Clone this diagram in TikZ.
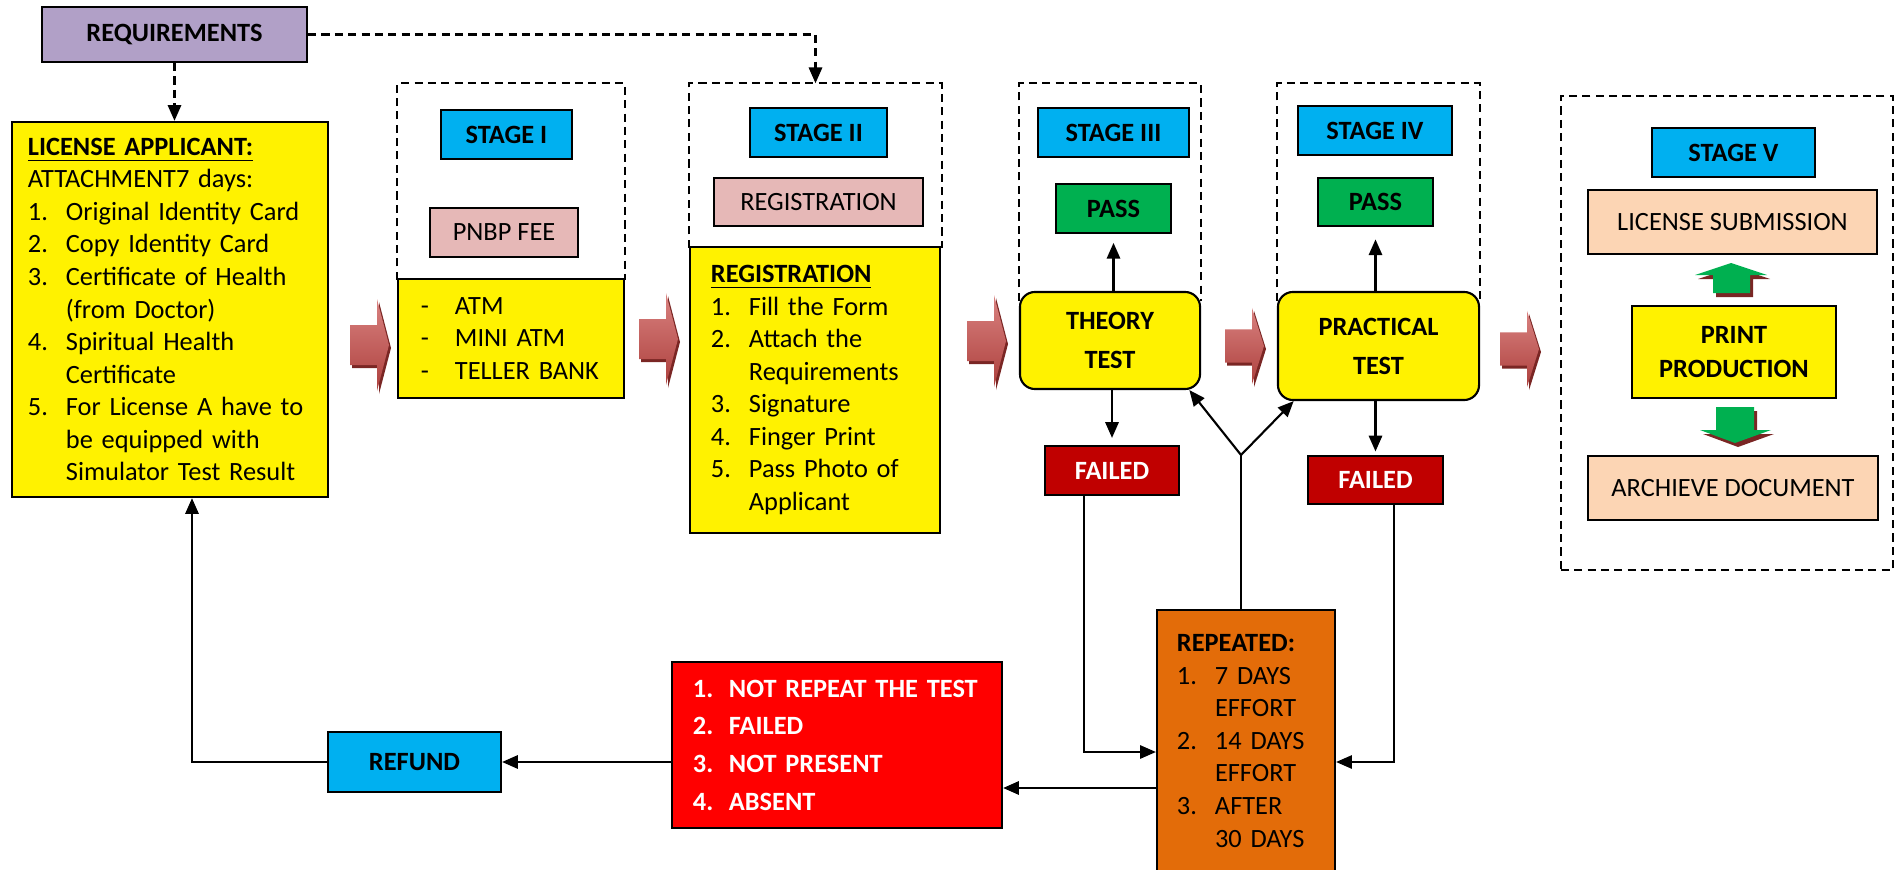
\documentclass[tikz,border=0pt]{standalone}
\usepackage{fontspec}
\setmainfont{Carlito}
\usetikzlibrary{arrows.meta}

\definecolor{reqpurple}{HTML}{B1A0C7}
\definecolor{stageblue}{HTML}{00B0F0}
\definecolor{feepink}{HTML}{E6B8B7}
\definecolor{passgreen}{HTML}{00B050}
\definecolor{faildark}{HTML}{C00000}
\definecolor{peach}{HTML}{FCD5B4}
\definecolor{retryorange}{HTML}{E36C09}
\definecolor{arrowlight}{HTML}{D98280}
\definecolor{arrowdark}{HTML}{AD403D}
\definecolor{arrowshadow}{HTML}{7A2624}

\newlength{\numw}
\newcommand{\lno}[1]{\makebox[\numw][l]{#1}}
\newcommand{\lgap}{\hspace*{\numw}}

\tikzset{
	box/.style={draw, line width=0.6pt, inner sep=0pt, align=center, font=\fontsize{7.5}{9.25}\selectfont},
	boldbox/.style={box, font=\fontsize{7.5}{9.25}\selectfont\bfseries},
	stagebox/.style={boldbox, fill=stageblue},
	passbox/.style={boldbox, fill=passgreen, minimum width=1.15cm, minimum height=0.49cm},
	failbox/.style={boldbox, fill=faildark, text=white, minimum width=1.35cm, minimum height=0.49cm},
	testbox/.style={boldbox, fill=yellow, rounded corners=0.15cm, font=\fontsize{7.5}{11.1}\selectfont\bfseries},
	stageframe/.style={inner sep=0pt},
	dashline/.style={line width=0.6pt, dash pattern=on 2.3pt off 1.5pt},
	conn/.style={line width=0.6pt, -{Triangle[length=4.5pt,width=3.8pt]}},
}

\begin{document}
\begin{tikzpicture}[x=0.01cm,y=-0.01cm]
	\useasboundingbox (0,0) rectangle (1897,870);

	\node[stageframe, minimum width=2.26cm, minimum height=1.95cm] (frame1) at (511,181.5) {};
	\node[stageframe, minimum width=2.51cm, minimum height=1.63cm] (frame2) at (815.5,165.5) {};
	\node[stageframe, minimum width=1.80cm, minimum height=2.16cm] (frame3) at (1110,192) {};
	\node[stageframe, minimum width=2.01cm, minimum height=2.16cm] (frame4) at (1378.5,192) {};
	\foreach \f in {frame1,frame2,frame3,frame4}
	  {
	      \draw[dashline] (\f.south west) |- (\f.north east) -- (\f.south east);
	  }
	\node[stageframe, draw, dashline, minimum width=3.32cm, minimum height=4.74cm] (frame5) at (1727,333) {};

	\node[boldbox, fill=reqpurple, minimum width=2.65cm, minimum height=0.55cm] (req) at (174.5,34.5) {REQUIREMENTS};
	\node[box, fill=yellow, minimum width=3.16cm, minimum height=3.75cm, text width=2.84cm, align=left] (appl) at (170,309.5)
	  {\setlength{\numw}{0.38cm}\underline{\textbf{LICENSE APPLICANT:}}\\
	   ATTACHMENT7 days:\\
	   \lno{1.}Original Identity Card\\
	   \lno{2.}Copy Identity Card\\
	   \lno{3.}Certificate of Health\\
	   \lgap(from Doctor)\\
	   \lno{4.}Spiritual Health\\
	   \lgap Certificate\\
	   \lno{5.}For~License~A~have~to\\
	   \lgap be~equipped~with\\
	   \lgap Simulator~Test~Result};

	\node[stagebox, minimum width=1.31cm, minimum height=0.49cm] (stage1) at (506.5,134.5) {STAGE I};
	\node[box, fill=feepink, minimum width=1.48cm, minimum height=0.49cm] (fee) at (504,232.5) {PNBP FEE};
	\node[box, fill=yellow, minimum width=2.26cm, minimum height=1.19cm, text width=1.80cm, align=left] (bank) at (511,338.5)
	  {\setlength{\numw}{0.34cm}\lno{-}ATM\\ \lno{-}MINI~ATM\\ \lno{-}TELLER~BANK};

	\node[stagebox, minimum width=1.37cm, minimum height=0.49cm] (stage2) at (818.5,132.5) {STAGE II};
	\node[box, fill=feepink, minimum width=2.09cm, minimum height=0.48cm] (regfee) at (818.5,202) {REGISTRATION};
	\node[box, fill=yellow, minimum width=2.50cm, minimum height=2.86cm, text width=2.08cm, align=left] (reg) at (815,390)
	  {\setlength{\numw}{0.38cm}\underline{\textbf{REGISTRATION}}\\
	   \lno{1.}Fill the Form\\
	   \lno{2.}Attach the\\
	   \lgap Requirements\\
	   \lno{3.}Signature\\
	   \lno{4.}Finger Print\\
	   \lno{5.}Pass Photo of\\
	   \lgap Applicant};

	\node[stagebox, minimum width=1.51cm, minimum height=0.49cm] (stage3) at (1113.5,132.5) {STAGE III};
	\node[passbox] (pass3) at (1113.5,208.5) {PASS};
	\node[testbox, minimum width=1.80cm, minimum height=0.97cm] (theory) at (1110,340.5) {THEORY\\TEST};
	\node[failbox, minimum width=1.34cm] (fail3) at (1112,470.5) {FAILED};

	\node[stagebox, minimum width=1.54cm, minimum height=0.49cm] (stage4) at (1375,130.5) {STAGE IV};
	\node[passbox, minimum height=0.48cm] (pass4) at (1375.5,202) {PASS};
	\node[testbox, minimum width=2.01cm, minimum height=1.08cm] (practical) at (1378.5,346) {PRACTICAL\\TEST};
	\node[failbox, minimum height=0.48cm] (fail4) at (1375.5,480) {FAILED};

	\node[stagebox, minimum width=1.63cm, minimum height=0.49cm] (stage5) at (1733.5,152.5) {STAGE V};
	\node[box, fill=peach, minimum width=2.89cm, minimum height=0.64cm] (submit) at (1732.5,222) {LICENSE SUBMISSION};
	\node[boldbox, fill=yellow, minimum width=2.04cm, minimum height=0.92cm, font=\fontsize{7.5}{9.7}\selectfont\bfseries] (print) at (1734,352) {PRINT\\PRODUCTION};
	\node[box, fill=peach, minimum width=2.90cm, minimum height=0.64cm] (archive) at (1733,488) {ARCHIEVE DOCUMENT};

	\node[box, fill=retryorange, minimum width=1.78cm, minimum height=2.62cm, text width=1.38cm, align=left] (retry) at (1246,741)
	  {\setlength{\numw}{0.38cm}\textbf{REPEATED:}\\
	   \lno{1.}7~DAYS\\ \lgap EFFORT\\
	   \lno{2.}14~DAYS\\ \lgap EFFORT\\
	   \lno{3.}AFTER\\ \lgap 30~DAYS};
	\node[boldbox, fill=red, text=white, minimum width=3.30cm, minimum height=1.66cm, text width=2.88cm, align=left, font=\fontsize{7.5}{10.7}\selectfont\bfseries] (norepeat) at (837,745)
	  {\setlength{\numw}{0.36cm}\lno{1.}NOT~REPEAT~THE~TEST\\
	   \lno{2.}FAILED\\
	   \lno{3.}NOT~PRESENT\\
	   \lno{4.}ABSENT};
	\node[stagebox, minimum width=1.73cm, minimum height=0.60cm] (refund) at (414.5,762) {REFUND};

	\foreach \ax/\ay/\sc in {350/345/1, 639/339/1, 967/341/1, 1225/346/0.83, 1500/349/0.83}{
	    \fill[arrowshadow, shift={(\ax+2,\ay+3)}, yscale=\sc] (0,-20) -- (27,-20) -- (27,-46) -- (39,0) -- (27,46) -- (27,20) -- (0,20) -- cycle;
	    \shade[top color=arrowlight, bottom color=arrowdark, shift={(\ax,\ay)}, yscale=\sc] (0,-20) -- (27,-20) -- (27,-46) -- (39,0) -- (27,46) -- (27,20) -- (0,20) -- cycle;
	}

	\fill[arrowshadow, shift={(3,4)}] (1731,263) -- (1767,275) -- (1750,275) -- (1750,293) -- (1713,293) -- (1713,275) -- (1695,275) -- cycle;
	\fill[passgreen] (1731,263) -- (1767,275) -- (1750,275) -- (1750,293) -- (1713,293) -- (1713,275) -- (1695,275) -- cycle;
	\fill[arrowshadow, shift={(3,4)}] (1716,407) -- (1754,407) -- (1754,430) -- (1771,430) -- (1735,443) -- (1700,430) -- (1716,430) -- cycle;
	\fill[passgreen] (1716,407) -- (1754,407) -- (1754,430) -- (1771,430) -- (1735,443) -- (1700,430) -- (1716,430) -- cycle;

	\draw[dashline, conn] (req.south) -- (req.south |- appl.north);
	\draw[dashline, conn] (req.east) -| (frame2.north);

	\draw[conn, shorten >=2.5pt] (pass3.south |- theory.north) -- (pass3.south);
	\draw[conn, shorten >=2pt] (fail3.north |- theory.south) -- (fail3.north);
	\draw[conn, shorten >=3.5pt] (pass4.south |- practical.north) -- (pass4.south);
	\draw[conn, shorten >=1pt] (fail4.north |- practical.south) -- (fail4.north);

	\coordinate (fork) at (1241,455);
	\draw[line width=0.5pt] (retry.north -| fork) -- (fork);
	\draw[conn] (fork) -- (theory.-32);
	\draw[conn] (fork) -- (practical.213);

	\coordinate (in3) at (1084,752);
	\coordinate (in4) at (1394,762);
	\draw[conn, line width=0.5pt] (fail3.south -| in3) -- (in3) -- (in3 -| retry.west);
	\draw[conn, line width=0.5pt] (fail4.south -| in4) -- (in4) -- (in4 -| retry.east);

	\coordinate (back) at (1157,788);
	\draw[conn] (retry.west |- back) -- (norepeat.east |- back);
	\draw[conn] (norepeat.west |- refund.east) -- (refund.east);
	\coordinate (up) at (192,762);
	\draw[conn] (refund.west) -- (up) -- (up |- appl.south);
\end{tikzpicture}
\end{document}
